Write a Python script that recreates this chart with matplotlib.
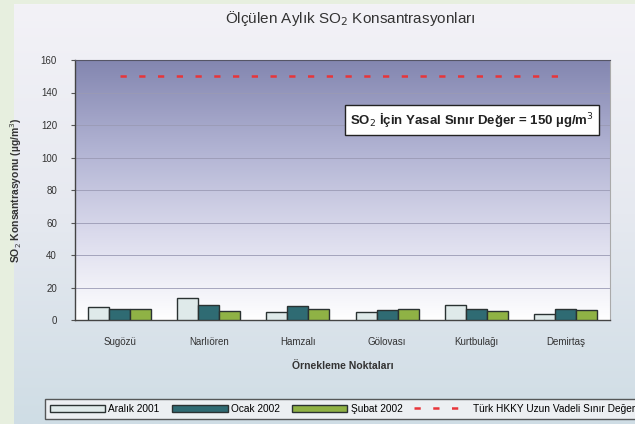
import matplotlib
matplotlib.use("Agg")
import matplotlib.pyplot as plt
import numpy as np
from matplotlib.patches import Patch
from matplotlib.lines import Line2D
from matplotlib.colors import LinearSegmentedColormap

plt.rcParams['font.family'] = ['Liberation Sans', 'DejaVu Sans']

categories = ["Sugözü", "Narlıören", "Hamzalı", "Gölovası", "Kurtbulağı", "Demirtaş"]
aralik_2001 = [8, 13.5, 5, 5, 9, 4]
ocak_2002 = [6.5, 9, 8.5, 6, 6.5, 7]
subat_2002 = [6.5, 5.5, 7, 7, 5.5, 6]
sinir_deger = [150, 150, 150, 150, 150, 150]
yticks = [0, 20, 40, 60, 80, 100, 120, 140, 160]
series_names = ["Aralık 2001", "Ocak 2002", "Şubat 2002", "Türk HKKY Uzun Vadeli Sınır Değer"]

W, H = 635, 424
fig = plt.figure(figsize=(W / 100, H / 100), dpi=100)
fig.patch.set_facecolor('#e7efdf')

# chart area background
bg = fig.add_axes([14 / W, 0, 621 / W, 420 / H])
bg.axis('off')
cm_bg = LinearSegmentedColormap.from_list('bg', ['#f3f2f7', '#e6e9f0', '#cfdde5'])
bg.imshow(np.linspace(0, 1, 256)[:, None], cmap=cm_bg, aspect='auto',
          extent=(0, 1, 0, 1), transform=bg.transAxes)

ax = fig.add_axes([75 / W, 1 - 320 / H, 535 / W, 260 / H])
cm_plot = LinearSegmentedColormap.from_list('pl', ['#8386b0', '#b0b2d2', '#dadaec', '#ffffff'])
ax.imshow(np.linspace(0, 1, 256)[:, None], cmap=cm_plot, aspect='auto',
          extent=(-0.5, 5.5, 0, 160), zorder=0)
ax.set_xlim(-0.5, 5.5)
ax.set_ylim(0, 160)
ax.set_yticks(yticks)
ax.set_yticklabels([str(t) for t in yticks], fontsize=7, color='#333333')
for t in yticks[1:-1]:
    ax.axhline(t, color='#9a9ab4', lw=0.6, zorder=1)

x = np.arange(len(categories))
bw = 0.235
ax.bar(x - bw, aralik_2001, bw, color='#dfeaea', edgecolor='#2a3232', lw=1, zorder=3)
ax.bar(x, ocak_2002, bw, color='#2f6b73', edgecolor='#2a3232', lw=1, zorder=3)
ax.bar(x + bw, subat_2002, bw, color='#8fb245', edgecolor='#2a3232', lw=1, zorder=3)
ax.plot(x, sinir_deger, color='#e8353a', ls=(0, (2.5, 5)), lw=1.8, zorder=4)

ax.set_xticks(x)
ax.set_xticklabels(categories, fontsize=7, color='#333333')
ax.tick_params(axis='both', length=3, color='#555555', pad=10)
ax.tick_params(axis='x', length=0, pad=12)
for s in ['left', 'bottom']:
    ax.spines[s].set_color('#444444')
    ax.spines[s].set_linewidth(1)
ax.spines['top'].set_color('#555566')
ax.spines['right'].set_color('#aaaaaa')

ax.set_ylabel("SO$_2$ Konsantrasyonu (µg/m$^3$)", fontsize=7.5, fontweight='bold',
              color='#333333', labelpad=12)
ax.set_xlabel("Örnekleme Noktaları", fontsize=7.5, fontweight='bold', color='#333333',
              labelpad=10)

ax.text(0.97, 0.77, "SO$_2$ İçin Yasal Sınır Değer = 150 µg/m$^3$", transform=ax.transAxes,
        ha='right', va='center', fontsize=9.5, fontweight='bold', color='#222222',
        bbox=dict(boxstyle='square,pad=0.4', facecolor='white', edgecolor='#222222', lw=1),
        zorder=5)

fig.text(350 / W, 1 - 18 / H, "Ölçülen Aylık SO$_2$ Konsantrasyonları", ha='center',
         va='center', fontsize=11, color='#333333')

handles = [Patch(facecolor='#dfeaea', edgecolor='#2a3232'),
           Patch(facecolor='#2f6b73', edgecolor='#2a3232'),
           Patch(facecolor='#8fb245', edgecolor='#2a3232'),
           Line2D([0], [0], color='#e8353a', ls=(0, (2.5, 5)), lw=1.8)]
leg = fig.legend(handles, series_names, loc='center left', ncol=4,
                 bbox_to_anchor=(40 / W, 1 - 409 / H), fontsize=7.3, frameon=True,
                 handlelength=5.5, handleheight=0.8, columnspacing=1.2, handletextpad=0.3,
                 borderpad=0.45, fancybox=False)
leg.get_frame().set_edgecolor('#333333')
leg.get_frame().set_facecolor('#f4f4f6')

fig.savefig('out.png', dpi=100, facecolor=fig.get_facecolor())
